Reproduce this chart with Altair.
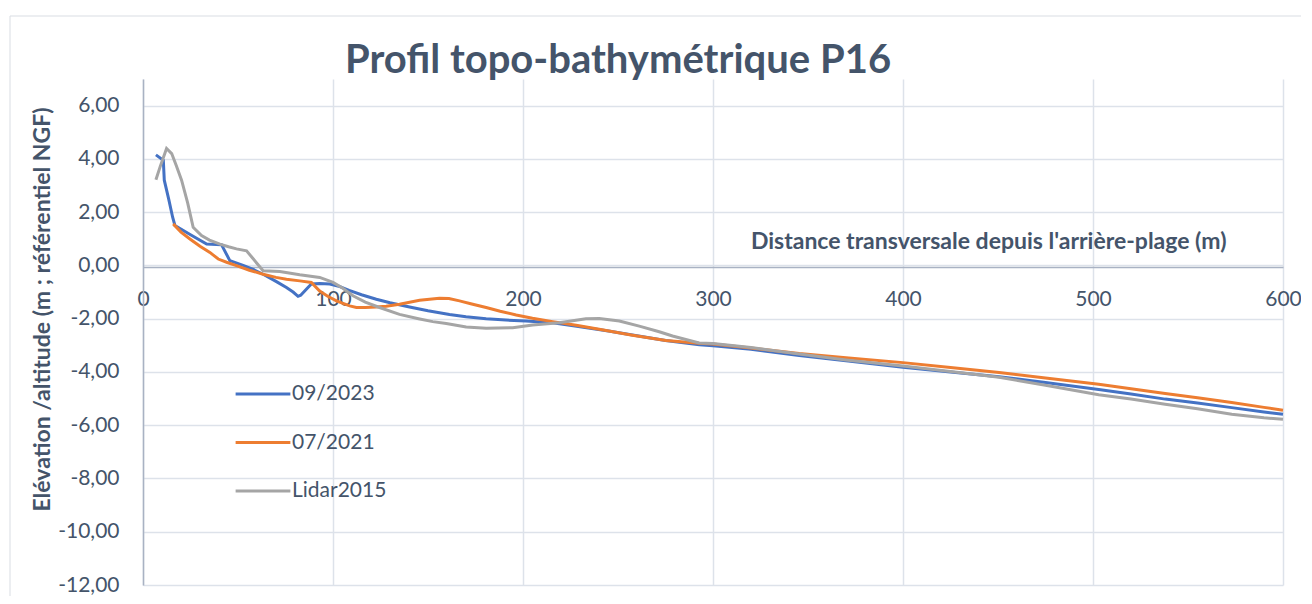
import altair as alt
import pandas as pd

# ---- data ----
x_2023 = [6.8, 10.7, 11.2, 13.5, 15.6, 16.8, 25, 33.5, 41.3, 45.7, 52.7, 58, 63.2, 70, 75.5, 79, 81.6, 83,
          85.1, 88.6, 93, 98.3, 103, 108.5, 115, 122.8, 130, 140.3, 150, 161.3, 170, 180.6, 191, 201.6,
          215.6, 230, 245, 260, 275, 292.8, 300, 320, 345.4, 370, 400, 425, 450.6, 475, 503, 520, 538,
          555, 573, 590, 600]
y_2023 = [4.15, 3.95, 3.2, 2.5, 1.81, 1.5, 1.15, 0.80, 0.78, 0.18, 0.0, -0.15, -0.33, -0.6, -0.83, -1.0,
          -1.16, -1.12, -0.96, -0.70, -0.68, -0.70, -0.78, -0.94, -1.1, -1.27, -1.40, -1.56, -1.70, -1.84,
          -1.93, -2.0, -2.05, -2.09, -2.15, -2.30, -2.46, -2.64, -2.82, -2.98, -3.02, -3.15, -3.38, -3.58,
          -3.82, -4.0, -4.18, -4.40, -4.66, -4.83, -5.02, -5.17, -5.34, -5.50, -5.59]

x_2021 = [15.9, 20, 24.7, 30, 35.2, 39.6, 44, 49.2, 56, 63.2, 70, 75.5, 82.5, 88.6, 93, 97, 101.8, 108.8,
          112.3, 117, 122.8, 128, 135, 145.6, 156, 161, 166.6, 173, 180.6, 188, 196.4, 205, 215.6, 228,
          240.1, 257.6, 275.2, 292.7, 300, 320, 345.4, 370, 400, 425, 450.6, 475, 503, 520, 538, 555,
          573, 590, 600]
y_2021 = [1.56, 1.25, 0.99, 0.72, 0.49, 0.24, 0.12, -0.01, -0.18, -0.33, -0.45, -0.52, -0.58, -0.64,
          -0.96, -1.15, -1.33, -1.52, -1.58, -1.58, -1.56, -1.53, -1.46, -1.31, -1.23, -1.24, -1.33,
          -1.45, -1.58, -1.72, -1.86, -1.98, -2.11, -2.25, -2.40, -2.62, -2.82, -2.92, -2.95, -3.10,
          -3.31, -3.47, -3.65, -3.83, -4.02, -4.23, -4.46, -4.63, -4.81, -4.97, -5.15, -5.33, -5.44]

x_2015 = [6.8, 9, 12.4, 15.1, 17.5, 20.3, 23.5, 26.4, 30.8, 35, 40.5, 45, 49.2, 54.5, 63.2, 72, 82.5,
          93, 100, 105, 110.5, 117, 124.5, 135, 145, 152.5, 159.6, 170.1, 180.6, 194.6, 205.1, 219.1,
          233.1, 240.1, 250.7, 261.2, 271.7, 278.7, 292.7, 300, 320, 345.4, 370, 400, 425, 450.6, 475,
          503, 520, 538, 555, 573, 590, 600]
y_2015 = [3.22, 3.7, 4.39, 4.2, 3.75, 3.2, 2.35, 1.43, 1.12, 0.95, 0.80, 0.70, 0.62, 0.55, -0.2, -0.23,
          -0.35, -0.45, -0.64, -0.85, -1.14, -1.38, -1.58, -1.84, -2.0, -2.11, -2.18, -2.31, -2.36,
          -2.34, -2.24, -2.15, -2.0, -1.99, -2.09, -2.28, -2.49, -2.65, -2.91, -2.93, -3.08, -3.33,
          -3.55, -3.78, -3.98, -4.2, -4.5, -4.86, -5.02, -5.21, -5.38, -5.59, -5.72, -5.78]

series_names = ["09/2023", "07/2021", "Lidar2015"]
series_colors = ["#4472C4", "#ED7D31", "#A5A5A5"]
x_ticks = [0, 100, 200, 300, 400, 500, 600]
y_ticks = [-12, -10, -8, -6, -4, -2, 0, 2, 4, 6]

rows = []
for name, xs, ys in zip(series_names, [x_2023, x_2021, x_2015], [y_2023, y_2021, y_2015]):
    for i, (a, b) in enumerate(zip(xs, ys)):
        rows.append({"serie": name, "dist": a, "elev": b, "i": i})
df = pd.DataFrame(rows)

FONT = "Lato"
TXT = "#44546A"
GRID = "#DDE2EA"
AXL = "#A9B2C3"

y_label = "(datum.value < 0 ? '-' : '') + replace(format(abs(datum.value), '.2f'), '.', ',')"

lines = alt.Chart(df).mark_line(strokeWidth=3).encode(
    x=alt.X("dist:Q",
            scale=alt.Scale(domain=[0, 600], nice=False, zero=False),
            axis=alt.Axis(values=x_ticks, format="d", orient="bottom", offset=-318,
                          grid=True, gridColor=GRID, gridWidth=1.5,
                          domain=True, domainColor=AXL, domainWidth=1.5,
                          ticks=False, tickSize=0, labelPadding=38, labelBaseline="alphabetic",
                          labelFontSize=21, labelFont=FONT, labelColor=TXT, labelFlush=False,
                          title="Distance transversale depuis l'arrière-plage (m)",
                          titleFont=FONT, titleFontSize=23, titleFontWeight="bold", titleColor=TXT,
                          titleX=1083, titleY=-19, titleAlign="right", titleBaseline="alphabetic")),
    y=alt.Y("elev:Q",
            scale=alt.Scale(domain=[-12, 7], nice=False, zero=False),
            axis=alt.Axis(values=y_ticks, labelExpr=y_label, grid=True, gridColor=GRID, gridWidth=1.5,
                          domain=True, domainColor=AXL, domainWidth=1.5,
                          ticks=False, tickSize=0, labelPadding=24,
                          labelFontSize=21, labelFont=FONT, labelColor=TXT,
                          title="Elévation /altitude (m ; référentiel NGF)",
                          titleFont=FONT, titleFontSize=23, titleFontWeight="bold", titleColor=TXT,
                          titleX=-101, titleY=230, titleAlign="center", titleBaseline="middle",
                          titleAngle=270)),
    color=alt.Color("serie:N",
                    scale=alt.Scale(domain=series_names, range=series_colors),
                    legend=alt.Legend(title=None, orient="none", legendX=91, legendY=286,
                                      symbolType="stroke", symbolSize=3000, symbolStrokeWidth=3,
                                      labelFontSize=21, labelFont=FONT, labelColor=TXT,
                                      labelOffset=0, rowPadding=9.5)),
    order=alt.Order("i:Q"),
)

frame = alt.Chart(pd.DataFrame({"k": [0]})).mark_rect(
    filled=False, stroke="#D9DDE3", strokeWidth=1
).encode(
    x=alt.value(-133), x2=alt.value(1200), y=alt.value(-63), y2=alt.value(600)
)

chart = alt.layer(frame, lines).properties(
    width=1140,
    height=506,
    title=alt.TitleParams("Profil topo-bathymétrique P16", anchor="start", frame="group", dx=202,
                          offset=-97, baseline="alphabetic", fontSize=40, font=FONT,
                          fontWeight="bold", color=TXT),
    autosize=alt.AutoSizeParams(type="none"),
    padding={"left": 135, "top": 71, "right": 18, "bottom": 11},
).configure_view(stroke=None)

chart.save("out.html", embed_options={"renderer": "svg", "actions": False})
